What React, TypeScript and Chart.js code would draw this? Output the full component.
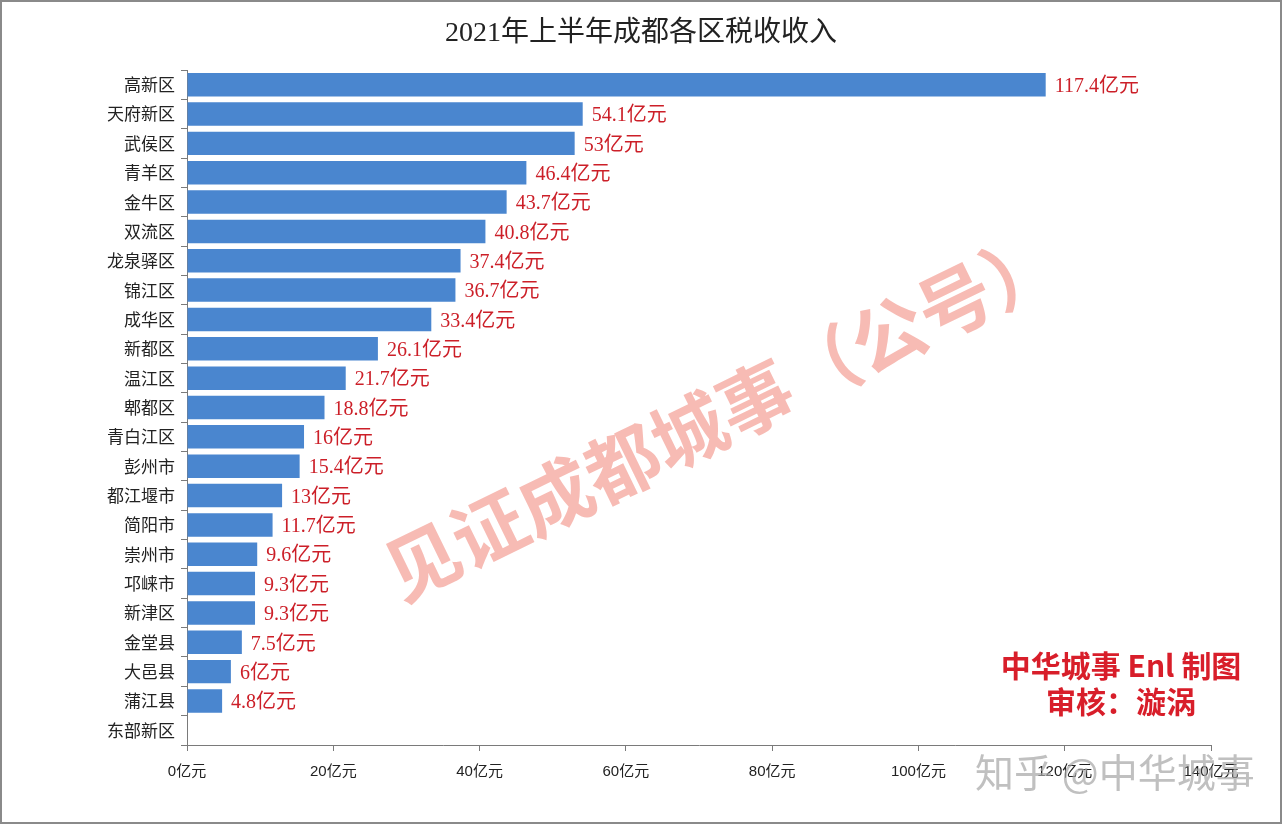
import React, { useEffect, useRef } from "react";
import { Chart, registerables } from "chart.js";

Chart.register(...registerables);

const titleText = "2021年上半年成都各区税收收入";
const categories = [
  "高新区", "天府新区", "武侯区", "青羊区", "金牛区", "双流区", "龙泉驿区", "锦江区",
  "成华区", "新都区", "温江区", "郫都区", "青白江区", "彭州市", "都江堰市", "简阳市",
  "崇州市", "邛崃市", "新津区", "金堂县", "大邑县", "蒲江县", "东部新区",
];
const values: (number | null)[] = [
  117.4, 54.1, 53, 46.4, 43.7, 40.8, 37.4, 36.7, 33.4, 26.1, 21.7, 18.8, 16, 15.4, 13,
  11.7, 9.6, 9.3, 9.3, 7.5, 6, 4.8, null,
];
const unit = "亿元";
const xMax = 140;
const xStep = 20;
const watermarkText = "见证成都城事（公号）";
const creditLine1 = "中华城事 Enl 制图";
const creditLine2 = "审核：漩涡";
const siteMark = "知乎 @中华城事";

const CJK = '"Noto Sans CJK SC"';

export default function App() {
  const ref = useRef<HTMLCanvasElement>(null);
  useEffect(() => {
    document.body.style.margin = "0";
    const canvas = ref.current!;
    const overlay = {
      id: "overlay",
      beforeDraw(chart: any) {
        const ctx = chart.ctx;
        ctx.save();
        ctx.fillStyle = "#ffffff";
        ctx.fillRect(0, 0, chart.width, chart.height);
        ctx.restore();
      },
      afterDraw(chart: any) {
        const ctx = chart.ctx;
        ctx.save();
        // title
        ctx.fillStyle = "#222";
        ctx.font = `28px "Liberation Serif", ${CJK}`;
        ctx.textAlign = "center";
        ctx.textBaseline = "middle";
        ctx.fillText(titleText, 641, 34);
        // value labels
        const meta = chart.getDatasetMeta(0);
        ctx.fillStyle = "#cc1f28";
        ctx.font = `20px "Liberation Serif", ${CJK}`;
        ctx.textAlign = "left";
        meta.data.forEach((bar: any, i: number) => {
          const v = values[i];
          if (v === null || v === undefined) return;
          ctx.fillText(`${v}${unit}`, bar.x + 9, bar.y + 2);
        });
        // big diagonal watermark
        ctx.save();
        ctx.translate(722, 415);
        ctx.rotate(-26 * Math.PI / 180);
        ctx.fillStyle = "rgba(240, 120, 105, 0.5)";
        ctx.font = `bold 74px ${CJK}`;
        ctx.textAlign = "center";
        ctx.textBaseline = "middle";
        ctx.fillText(watermarkText, 0, 0);
        ctx.restore();
        // credit
        ctx.fillStyle = "#d81e2a";
        ctx.font = `bold 30px ${CJK}`;
        ctx.textAlign = "center";
        ctx.fillText(creditLine1, 1121, 666);
        ctx.fillText(creditLine2, 1121, 702);
        // site mark
        ctx.fillStyle = "rgba(165,165,165,0.7)";
        ctx.font = `39px ${CJK}`;
        ctx.textAlign = "left";
        ctx.fillText(siteMark, 975, 772);
        // border
        ctx.strokeStyle = "#8a8a8a";
        ctx.lineWidth = 2;
        ctx.strokeRect(1, 1, chart.width - 2, chart.height - 2);
        ctx.restore();
      },
    };
    const chart = new Chart(canvas, {
      type: "bar",
      data: {
        labels: categories,
        datasets: [
          {
            data: values as any,
            backgroundColor: "#4a86cf",
            barPercentage: 0.8,
            categoryPercentage: 1,
          },
        ],
      },
      options: {
        indexAxis: "y",
        responsive: false,
        animation: false,
        devicePixelRatio: 1,
        layout: { padding: { top: 70, right: 71, left: 0, bottom: 0 } },
        plugins: {
          legend: { display: false },
          tooltip: { enabled: false },
          title: { display: false },
        },
        scales: {
          y: {
            afterFit(scale: any) {
              scale.width = 187;
            },
            grid: {
              offset: true,
              drawOnChartArea: false,
              drawTicks: true,
              tickLength: 6,
              color: "#7a7a7a",
            },
            border: { display: true, color: "#7a7a7a", width: 1 },
            ticks: {
              color: "#222",
              font: { family: `${CJK}`, size: 17 },
              padding: 6,
            },
          },
          x: {
            min: 0,
            max: xMax,
            afterFit(scale: any) {
              scale.height = 79;
            },
            grid: {
              drawOnChartArea: false,
              drawTicks: true,
              tickLength: 6,
              color: "#7a7a7a",
            },
            border: { display: true, color: "#7a7a7a", width: 1 },
            ticks: {
              stepSize: xStep,
              color: "#222",
              padding: 12,
              font: { family: `"Liberation Sans", ${CJK}`, size: 15 },
              callback: (v: any) => `${v}${unit}`,
            },
          },
        },
      },
      plugins: [overlay],
    });
    return () => chart.destroy();
  }, []);
  return <canvas ref={ref} width={1282} height={824} style={{ display: "block" }} />;
}
